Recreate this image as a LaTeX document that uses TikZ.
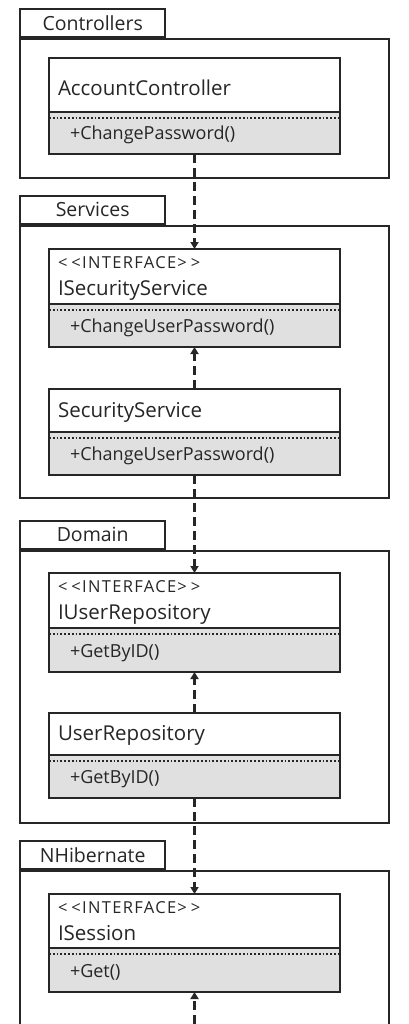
\documentclass[tikz,border=0pt]{standalone}
\usepackage{fontspec}
\setmainfont{Open Sans}
\usetikzlibrary{positioning,arrows.meta}
\tikzset{
  pkgtab/.style={draw=black!85, line width=2.4pt, minimum width=145pt, minimum height=28pt, inner sep=0pt, font=\fontsize{19.5}{22}\selectfont, text=black!85},
  pkgbody/.style={draw=black!85, line width=2.4pt, minimum width=369pt, inner sep=0pt},
  clsname/.style={draw=black!85, line width=2.4pt, fill=white, minimum width=291pt, text width=273pt, inner xsep=9pt, inner ysep=0pt, outer sep=0pt, align=left, text height=15pt, text depth=2pt, font=\fontsize{20.5}{27}\selectfont, text=black!85},
  clsiface/.style={clsname, text height={}, text depth={}},
  clsops/.style={draw=black!85, line width=2.4pt, fill=black!12, minimum width=291pt, text width=249pt, inner xsep=21pt, inner ysep=0pt, outer sep=0pt, align=left, text height=17pt, text depth=3pt, font=\fontsize{18}{20}\selectfont, text=black!85},
  dep/.style={line width=2.2pt, draw=black!85, dash pattern=on 9pt off 5pt, -{Triangle[length=7pt,width=8pt]}}
}
\newcommand{\iface}[1]{\rule{0pt}{16pt}{\fontsize{16.5}{18}\selectfont\addfontfeature{LetterSpace=8}<\kern4pt<INTERFACE>\kern4pt>}\\#1\rule[-5pt]{0pt}{5pt}}
\newcommand{\opsline}[1]{\draw[dotted, line width=1.8pt, draw=black!85] ([yshift=-6pt]#1.north west) -- ([yshift=-6pt]#1.north east);}

\begin{document}
\begin{tikzpicture}[x=1pt, y=-1pt]
  \useasboundingbox (0,0) rectangle (408,1024);
  \clip (0,0) rectangle (408,1024);

  % packages
  \node[pkgbody, minimum height=139pt, anchor=north west] (ctrlpkg) at (19,38) {};
  \node[pkgtab, anchor=south west] (ctrltab) at (19,38) {Controllers};
  \node[pkgbody, minimum height=272pt, anchor=north west] (servpkg) at (19,225) {};
  \node[pkgtab, anchor=south west] (servtab) at (19,225) {Services};
  \node[pkgbody, minimum height=272pt, anchor=north west] (dompkg) at (19,550) {};
  \node[pkgtab, anchor=south west] (domtab) at (19,550) {Domain};
  \node[pkgbody, minimum height=180pt, anchor=north west] (nhpkg) at (19,870) {};
  \node[pkgtab, anchor=south west] (nhtab) at (19,870) {NHibernate};

  % classes
  \node[clsname, text height=24pt, minimum height=54pt, anchor=north west] (acctname) at (49,58) {AccountController};
  \node[clsops, minimum height=42pt, below=0pt of acctname] (acctops) {+ChangePassword()};
  \opsline{acctops}

  \node[clsiface, minimum height=55pt, anchor=north west] (isecname) at (49,249) {\iface{ISecurityService}};
  \node[clsops, minimum height=43pt, below=0pt of isecname] (isecops) {+ChangeUserPassword()};
  \opsline{isecops}

  \node[clsname, minimum height=43pt, anchor=north west] (secname) at (49,389) {SecurityService};
  \node[clsops, minimum height=43pt, below=0pt of secname] (secops) {+ChangeUserPassword()};
  \opsline{secops}

  \node[clsiface, minimum height=55pt, anchor=north west] (irepname) at (49,573) {\iface{IUserRepository}};
  \node[clsops, minimum height=44pt, below=0pt of irepname] (irepops) {+GetByID()};
  \opsline{irepops}

  \node[clsname, minimum height=42pt, anchor=north west] (repname) at (49,713) {UserRepository};
  \node[clsops, minimum height=43pt, below=0pt of repname] (repops) {+GetByID()};
  \opsline{repops}

  \node[clsiface, minimum height=54pt, anchor=north west] (isesname) at (49,894) {\iface{ISession}};
  \node[clsops, minimum height=44pt, below=0pt of isesname] (isesops) {+Get()};
  \opsline{isesops}

  \coordinate (bottomend) at (194.5,1024);

  % dependencies
  \draw[dep] (acctops.south) -- (isecname.north);
  \draw[dep] (secname.north) -- (isecops.south);
  \draw[dep] (secops.south) -- (irepname.north);
  \draw[dep] (repname.north) -- (irepops.south);
  \draw[dep] (repops.south) -- (isesname.north);
  \draw[dep] (bottomend) -- (isesops.south);
\end{tikzpicture}
\end{document}
